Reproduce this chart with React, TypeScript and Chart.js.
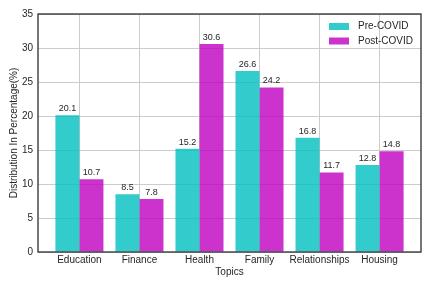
import React, { useEffect, useRef } from 'react';
import { Chart, registerables } from 'chart.js';

Chart.register(...registerables);

const categories = ['Education', 'Finance', 'Health', 'Family', 'Relationships', 'Housing'];
const preCovid = [20.1, 8.5, 15.2, 26.6, 16.8, 12.8];
const postCovid = [10.7, 7.8, 30.6, 24.2, 11.7, 14.8];
const yTicks = [0, 5, 10, 15, 20, 25, 30, 35];
const seriesLabels = ['Pre-COVID', 'Post-COVID'];
const seriesColors = ['rgba(0,191,191,0.8)', 'rgba(191,0,191,0.8)'];

const FONT = "'Liberation Sans', Arial, sans-serif";
const TEXT = '#262626';

const framePlugin = {
  id: 'frame',
  afterDatasetsDraw(chart: any) {
    const { ctx, chartArea } = chart;
    ctx.save();
    ctx.strokeStyle = TEXT;
    ctx.lineWidth = 1.25;
    ctx.strokeRect(chartArea.left, chartArea.top, chartArea.right - chartArea.left, chartArea.bottom - chartArea.top);
    ctx.restore();
  },
};

const valueLabelPlugin = {
  id: 'valueLabels',
  afterDatasetsDraw(chart: any) {
    const { ctx } = chart;
    ctx.save();
    ctx.font = `9px ${FONT}`;
    ctx.fillStyle = TEXT;
    ctx.textAlign = 'center';
    ctx.textBaseline = 'alphabetic';
    chart.data.datasets.forEach((ds: any, di: number) => {
      const meta = chart.getDatasetMeta(di);
      meta.data.forEach((el: any, i: number) => {
        const v = ds.data[i].y;
        ctx.fillText(v.toFixed(1), el.x, el.y - 4);
      });
    });
    ctx.restore();
  },
};

const legendPlugin = {
  id: 'insideLegend',
  afterDraw(chart: any) {
    const { ctx, chartArea } = chart;
    ctx.save();
    ctx.font = `10px ${FONT}`;
    ctx.textBaseline = 'middle';
    ctx.textAlign = 'left';
    chart.data.datasets.forEach((ds: any, i: number) => {
      const x = chartArea.right - 92;
      const yc = chartArea.top + 12.5 + i * 14.5;
      ctx.fillStyle = ds.backgroundColor;
      ctx.fillRect(x, yc - 3.5, 20, 7);
      ctx.fillStyle = TEXT;
      ctx.fillText(ds.label, x + 29, yc);
    });
    ctx.restore();
  },
};

export default function App() {
  const ref = useRef<HTMLCanvasElement | null>(null);

  useEffect(() => {
    document.body.style.margin = '0';
    if (!ref.current) return;
    const tickFont = { family: FONT, size: 10 };
    const chart = new Chart(ref.current, {
      type: 'bar',
      data: {
        datasets: [preCovid, postCovid].map((arr, si) => ({
          label: seriesLabels[si],
          data: arr.map((v, i) => ({ x: i, y: v })),
          backgroundColor: seriesColors[si],
          borderWidth: 0,
          categoryPercentage: 0.8,
          barPercentage: 1.0,
        })),
      },
      options: {
        responsive: false,
        animation: false,
        layout: { padding: { top: 14, right: 11, left: 0, bottom: 0 } },
        plugins: {
          legend: { display: false },
          tooltip: { enabled: false },
        },
        scales: {
          x: {
            type: 'linear',
            min: -0.69,
            max: 5.69,
            offset: false,
            afterBuildTicks: (axis: any) => {
              axis.ticks = categories.map((_, i) => ({ value: i }));
            },
            afterFit: (s: any) => {
              s.height = 36;
            },
            ticks: {
              callback: (v: any) => categories[Math.round(Number(v))] ?? '',
              font: tickFont,
              color: TEXT,
              padding: 2,
              autoSkip: false,
              maxRotation: 0,
            },
            grid: { color: '#cccccc', lineWidth: 1, drawTicks: false, offset: false },
            border: { display: false },
            title: {
              display: true,
              text: 'Topics',
              font: tickFont,
              color: TEXT,
              padding: { top: 0, bottom: 10 },
            },
          },
          y: {
            type: 'linear',
            min: 0,
            max: 35,
            afterBuildTicks: (axis: any) => {
              axis.ticks = yTicks.map((v) => ({ value: v }));
            },
            afterFit: (s: any) => {
              s.width = 38;
            },
            ticks: { font: tickFont, color: TEXT, padding: 5 },
            grid: { color: '#cccccc', lineWidth: 1, drawTicks: false },
            border: { display: false },
            title: {
              display: true,
              text: 'Distribution In Percentage(%)',
              font: tickFont,
              color: TEXT,
              padding: { top: 8.5, bottom: 0 },
            },
          },
        },
      },
      plugins: [framePlugin, valueLabelPlugin, legendPlugin],
    } as any);
    return () => chart.destroy();
  }, []);

  return (
    <div style={{ position: 'absolute', left: 0, top: 0, width: 432, height: 288 }}>
      <canvas ref={ref} width={432} height={288} style={{ display: 'block' }} />
    </div>
  );
}
